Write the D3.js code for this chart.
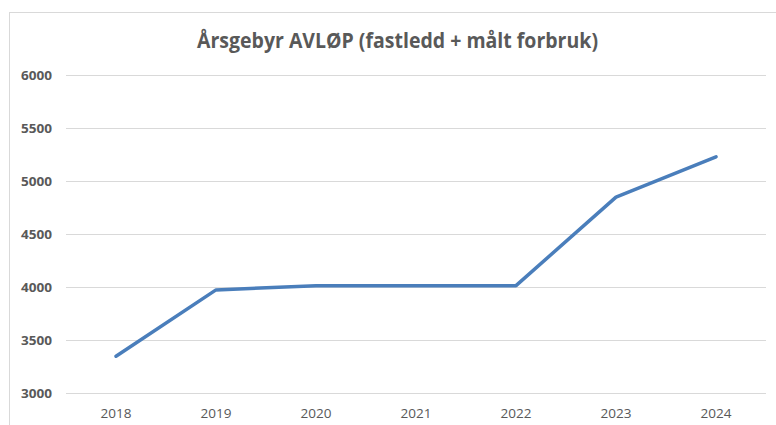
<!DOCTYPE html>
<html>
<head>
<meta charset="utf-8">
<script src="https://cdn.jsdelivr.net/npm/d3@7"></script>
<style>
  html, body { margin: 0; padding: 0; background: #fff; }
  svg { display: block; }
</style>
</head>
<body>
<svg id="chart" width="776" height="425"></svg>
<script>
const title = "Årsgebyr AVLØP (fastledd + målt forbruk)";
const years = ["2018", "2019", "2020", "2021", "2022", "2023", "2024"];
const values = [3350, 3975, 4015, 4015, 4015, 4850, 5230];
const yTicks = [3000, 3500, 4000, 4500, 5000, 5500, 6000];

const svg = d3.select("#chart");
const plot = { left: 66, right: 766, top: 75.1, bottom: 393.3 };

// chart border
svg.append("rect")
  .attr("x", 9.5).attr("y", 12.5)
  .attr("width", 800).attr("height", 500)
  .attr("fill", "#fff")
  .attr("stroke", "#d9d9d9").attr("stroke-width", 1);

const x = d3.scaleBand().domain(years).range([plot.left, plot.right]);
const y = d3.scaleLinear().domain([3000, 6000]).range([plot.bottom, plot.top]);

// gridlines
svg.append("g").selectAll("line").data(yTicks).join("line")
  .attr("x1", plot.left).attr("x2", plot.right)
  .attr("y1", d => Math.round(y(d)) + 0.5).attr("y2", d => Math.round(y(d)) + 0.5)
  .attr("stroke", "#d9d9d9").attr("stroke-width", 1);

// y axis labels
const yAxis = d3.axisLeft(y).tickValues(yTicks).tickSize(0).tickPadding(14).tickFormat(d3.format("d"));
const gy = svg.append("g").attr("transform", `translate(${plot.left},0)`).call(yAxis);
gy.select(".domain").remove();
gy.selectAll("text")
  .attr("font-family", "'Open Sans', sans-serif")
  .attr("font-weight", "bold")
  .attr("font-size", 13)
  .attr("fill", "#595959")
  .attr("textLength", 31).attr("lengthAdjust", "spacingAndGlyphs");

// x axis labels
const xAxis = d3.axisBottom(x).tickSize(0).tickPadding(15);
const gx = svg.append("g").attr("transform", `translate(0,${plot.bottom})`).call(xAxis);
gx.select(".domain").remove();
gx.selectAll("text")
  .attr("font-family", "'Open Sans', sans-serif")
  .attr("font-size", 13)
  .attr("fill", "#595959")
  .attr("textLength", 31).attr("lengthAdjust", "spacingAndGlyphs");

// line
const line = d3.line()
  .x((d, i) => x(years[i]) + x.bandwidth() / 2)
  .y(d => y(d));
svg.append("path")
  .datum(values)
  .attr("d", line)
  .attr("fill", "none")
  .attr("stroke", "#4a7ebb")
  .attr("stroke-width", 3.5)
  .attr("stroke-linecap", "round")
  .attr("stroke-linejoin", "round");

// title
svg.append("text")
  .attr("x", 397.5).attr("y", 48)
  .attr("text-anchor", "middle")
  .attr("font-family", "'Open Sans', sans-serif")
  .attr("font-weight", "bold")
  .attr("font-size", 20.5)
  .attr("fill", "#595959")
  .attr("textLength", 401).attr("lengthAdjust", "spacingAndGlyphs")
  .text(title);
</script>
</body>
</html>
